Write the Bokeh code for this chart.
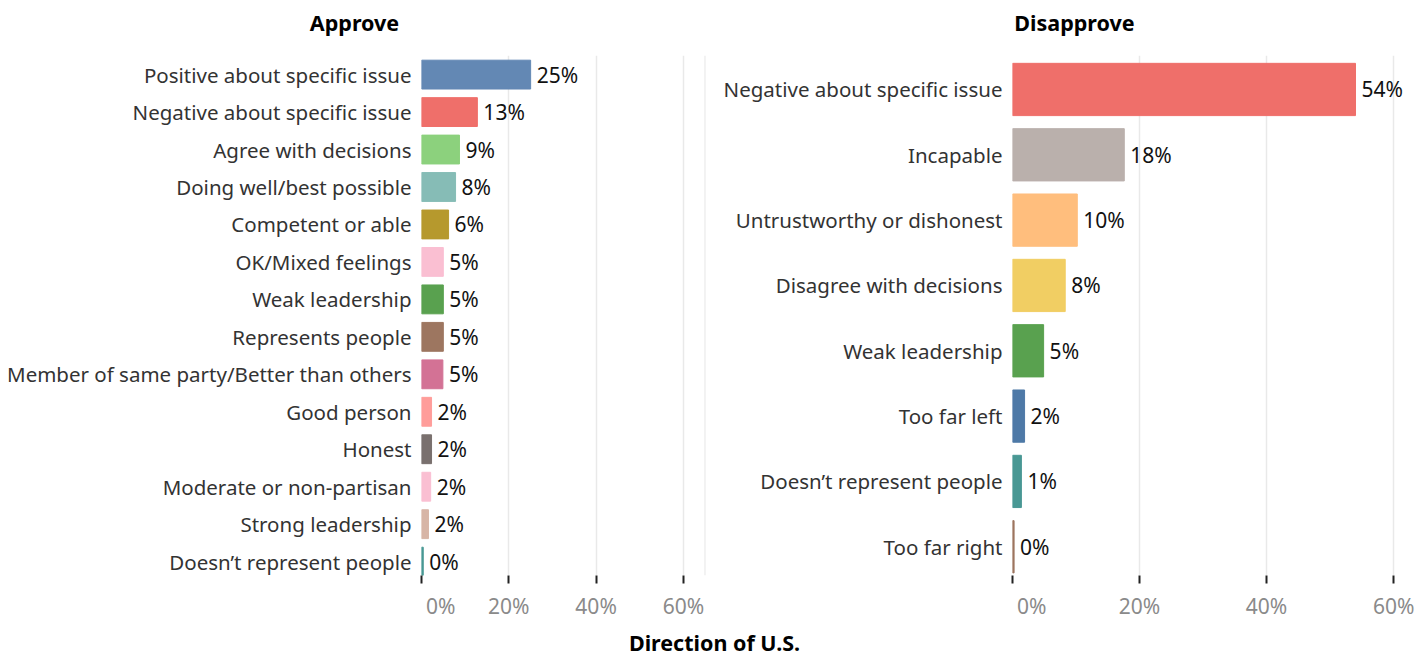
from bokeh.plotting import figure
from bokeh.models import Range1d, FixedTicker, Label, Span, ColumnDataSource
from bokeh.layouts import row, column
from bokeh.embed import file_html
from bokeh.resources import INLINE
from bokeh.core.properties import value

# ---------------- data ----------------
approve_cats = [
    "Positive about specific issue", "Negative about specific issue", "Agree with decisions",
    "Doing well/best possible", "Competent or able", "OK/Mixed feelings", "Weak leadership",
    "Represents people", "Member of same party/Better than others", "Good person", "Honest",
    "Moderate or non-partisan", "Strong leadership", "Doesn\u2019t represent people",
]
approve_vals = [25.0, 12.8, 8.7, 7.8, 6.2, 5.0, 5.0, 5.0, 4.9, 2.3, 2.3, 2.1, 1.6, 0.4]
approve_labels = ["25%", "13%", "9%", "8%", "6%", "5%", "5%", "5%", "5%", "2%", "2%", "2%", "2%", "0%"]
approve_colors = ["#6388b4", "#ef6f6a", "#8cd17d", "#86bcb6", "#b6992d", "#fabfd2", "#59a14f",
                  "#9d7660", "#d37295", "#ff9d9a", "#79706e", "#fabfd2", "#d7b5a6", "#499894"]

disapprove_cats = [
    "Negative about specific issue", "Incapable", "Untrustworthy or dishonest",
    "Disagree with decisions", "Weak leadership", "Too far left",
    "Doesn\u2019t represent people", "Too far right",
]
disapprove_vals = [54.0, 17.6, 10.2, 8.3, 4.9, 1.9, 1.4, 0.25]
disapprove_labels = ["54%", "18%", "10%", "8%", "5%", "2%", "1%", "0%"]
disapprove_colors = ["#ef6f6a", "#bab0ac", "#ffbe7d", "#f1ce63", "#59a14f", "#4e79a7",
                     "#499894", "#9d7660"]

x_ticks = [0, 20, 40, 60]
x_tick_labels = ["\u00a0" * 7 + "0%", "20%", "40%", "60%"]

titles = ["Approve", "Disapprove"]
x_axis_title = "Direction of U.S."

FONT = "Noto Sans"


def make_panel(cats, vals, labels, colors, width, border_left, border_right,
               x_end, y_start, y_end, bar_h):
    n = len(cats)
    idx = list(range(n))
    src = ColumnDataSource(dict(y=idx, v=vals, lab=labels, color=colors))
    p = figure(width=width, height=584, x_range=Range1d(0, x_end),
               y_range=Range1d(y_start, y_end), output_backend="svg",
               toolbar_location=None, min_border_left=border_left,
               min_border_right=border_right, min_border_top=15, min_border_bottom=49)
    p.outline_line_color = None
    p.hbar(y="y", left=0, right="v", height=bar_h, color="color", source=src)
    p.text(x="v", y="y", text="lab", source=src, x_offset=6, text_baseline="middle",
           text_align="left", text_font_size="21px", text_color="#111111",
           text_font=value(FONT))
    # y axis
    p.yaxis.ticker = FixedTicker(ticks=idx)
    p.yaxis.major_label_overrides = {i: c for i, c in enumerate(cats)}
    p.yaxis.axis_line_color = None
    p.yaxis.major_tick_line_color = None
    p.yaxis.minor_tick_line_color = None
    p.yaxis.major_label_standoff = 4
    p.yaxis.major_label_text_font = FONT
    p.yaxis.major_label_text_font_size = "20.5px"
    p.yaxis.major_label_text_color = "#333333"
    p.ygrid.grid_line_color = None
    # x axis
    p.xaxis.ticker = FixedTicker(ticks=x_ticks)
    p.xaxis.major_label_overrides = {t: l for t, l in zip(x_ticks, x_tick_labels)}
    p.xaxis.axis_line_color = None
    p.xaxis.major_tick_in = 0
    p.xaxis.major_tick_out = 8
    p.xaxis.major_tick_line_color = "#222222"
    p.xaxis.major_tick_line_width = 2
    p.xaxis.minor_tick_line_color = None
    p.xaxis.major_label_text_font = FONT
    p.xaxis.major_label_text_font_size = "21px"
    p.xaxis.major_label_text_color = "#8a8a8a"
    p.xaxis.major_label_standoff = 8
    p.xgrid.grid_line_color = "#e9e9e9"
    p.xgrid.grid_line_width = 1.5
    return p


def text_strip(height, items, y):
    s = figure(width=1417, height=height, x_range=Range1d(0, 1417), y_range=Range1d(0, 1),
               output_backend="svg", toolbar_location=None, min_border=0)
    s.axis.visible = False
    s.grid.grid_line_color = None
    s.outline_line_color = None
    for x, t in items:
        s.add_layout(Label(x=x, y=y, text=t, text_align="center", text_baseline="middle",
                           text_font=FONT, text_font_style="bold", text_font_size="21.5px",
                           text_color="#000000"))
    return s


top = text_strip(40, [(354, titles[0]), (1074, titles[1])], 0.45)

p1 = make_panel(approve_cats, approve_vals, approve_labels, approve_colors,
                width=706, border_left=421, border_right=1, x_end=65.06,
                y_start=13.37, y_end=-0.51, bar_h=0.77)
p1.add_layout(Span(location=65.0, dimension="height", line_color="#e6e6e6", line_width=1.5))

p2 = make_panel(disapprove_cats, disapprove_vals, disapprove_labels, disapprove_colors,
                width=711, border_left=306, border_right=8, x_end=62.5,
                y_start=7.44, y_end=-0.52, bar_h=0.8)

bottom = text_strip(32, [(714, x_axis_title)], 0.45)

layout = column(top, row(p1, p2), bottom)
open("out.html", "w").write(file_html(layout, INLINE))
